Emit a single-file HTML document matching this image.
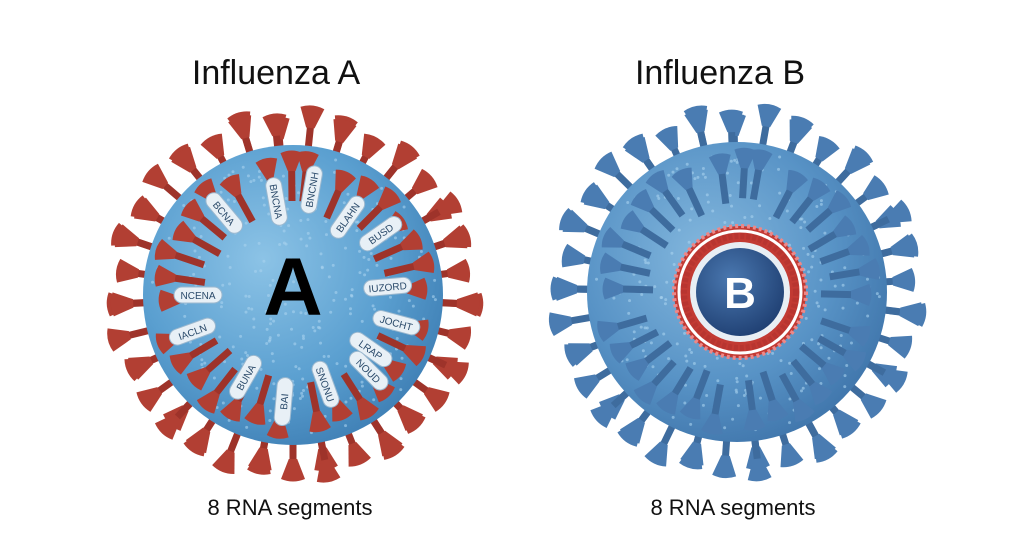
<!DOCTYPE html>
<html><head><meta charset="utf-8"><style>
html,body{margin:0;padding:0;background:#fff;width:1024px;height:559px;overflow:hidden}
svg{display:block}
text{font-family:"Liberation Sans","DejaVu Sans",sans-serif}
</style></head><body>
<svg id="s" width="1024" height="559" viewBox="0 0 1024 559" xmlns="http://www.w3.org/2000/svg">
<defs>
<radialGradient id="ga" cx="0.4" cy="0.38" r="0.7">
<stop offset="0" stop-color="#8cc3e6"/><stop offset="0.6" stop-color="#5a9fd0"/><stop offset="1" stop-color="#3c7cb2"/>
</radialGradient>
<radialGradient id="gb" cx="0.4" cy="0.38" r="0.7">
<stop offset="0" stop-color="#84b8de"/><stop offset="0.6" stop-color="#5893c6"/><stop offset="1" stop-color="#3d72a8"/>
</radialGradient>
<radialGradient id="gbadge" cx="0.4" cy="0.35" r="0.7">
<stop offset="0" stop-color="#4a78b0"/><stop offset="1" stop-color="#1f3f72"/>
</radialGradient>
</defs>
<text x="276" y="84" font-size="34" text-anchor="middle" fill="#111">Influenza A</text>
<text x="720" y="84" font-size="34" text-anchor="middle" fill="#111">Influenza B</text>
<g id="A"></g>
<g id="B"></g>
<text x="290" y="515" font-size="22" text-anchor="middle" fill="#111">8 RNA segments</text>
<text x="733" y="515" font-size="22" text-anchor="middle" fill="#111">8 RNA segments</text>
</svg>
<script>
var NS="http://www.w3.org/2000/svg";
function el(p,t,a){var e=document.createElementNS(NS,t);for(var k in a)e.setAttribute(k,a[k]);p.appendChild(e);return e;}
function head(L,w,h){return "M"+(-w)+","+(-L)+" Q0,"+(-L-5)+" "+w+","+(-L)+" L"+(w*0.35)+","+(-L+h)+" L"+(-w*0.35)+","+(-L+h)+" Z";}
function virus(id,cx,cy,r,grad,sc,hc,n,rot){
 var g=document.getElementById(id);
 for(var i=0;i<n;i++){
  var a=i*360/n+rot+((i*37)%11-5);
  var len=r+26+((i*7)%4)*4;
  var sg=el(g,"g",{transform:"translate("+cx+","+cy+") rotate("+a+")"});
  el(sg,"rect",{x:-3.5,y:-len+10,width:7,height:len-r+14,fill:sc});
  el(sg,"path",{d:head(len,12,20),fill:hc});
 }
 el(g,"circle",{cx:cx,cy:cy,r:r,fill:"url(#"+grad+")"});
 var seed=7;function rnd(){seed=(seed*9301+49297)%233280;return seed/233280;}
 for(var j=0;j<300;j++){var rr=Math.sqrt(rnd())*(r-6),th=rnd()*6.283;
  el(g,"circle",{cx:cx+rr*Math.cos(th),cy:cy+rr*Math.sin(th),r:1.5,fill:"#a9d2ee",opacity:0.6});}
 var m=Math.round(n*0.6);
 for(var i=0;i<m;i++){
  var a=i*360/m+rot+9+((i*13)%7-3);
  var sg=el(g,"g",{transform:"translate("+cx+","+cy+") rotate("+a+")"});
  var L=r-8-((i*5)%3)*5;
  el(sg,"rect",{x:-3.5,y:-L+12,width:7,height:36,fill:sc});
  el(sg,"path",{d:head(L,11,18),fill:hc});
 }
}
virus("A",293,295,150,"ga","#9e332a","#b23f33",52,0);
virus("B",737,292,150,"gb","#3e6c9e","#4a7cb2",52,4);
var A=document.getElementById("A");
var labs=["BNCNA","BCNA","BLAHN","BUSD","IUZORD","JOCHT","LRAP","NOUD","SNONU","BAI","BUNA","IACLN","NCENA","BNCNH"];
var angs=[-100,-130,-55,-35,-5,15,35,45,70,95,120,160,180,-80];
for(var k=0;k<labs.length;k++){
 var a=angs[k]*Math.PI/180,rr=95+(k%2)*12;
 var x=293+rr*Math.cos(a),y=295+rr*Math.sin(a);
 var deg=angs[k];if(deg>90||deg<-90)deg+=180;
 var gg=el(A,"g",{transform:"translate("+x+","+y+") rotate("+deg+")"});
 el(gg,"rect",{x:-24,y:-8,width:48,height:16,rx:8,fill:"#e8f0f6",stroke:"#9bb8cf","stroke-width":1});
 var t=el(gg,"text",{x:0,y:4,"font-size":10,"text-anchor":"middle",fill:"#2a4a6a"});t.textContent=labs[k];
}
var ta=el(A,"text",{x:293,y:315,"font-size":82,"font-weight":"bold","text-anchor":"middle",fill:"#000"});ta.textContent="A";
var B=document.getElementById("B");
el(B,"circle",{cx:740,cy:292,r:66,fill:"#c23a33"});
el(B,"circle",{cx:740,cy:292,r:66,fill:"none",stroke:"#e88","stroke-width":4,"stroke-dasharray":"3 3"});
el(B,"circle",{cx:740,cy:292,r:61,fill:"none",stroke:"#fff","stroke-width":3});
el(B,"circle",{cx:740,cy:292,r:56,fill:"none",stroke:"#b83530","stroke-width":6,"stroke-dasharray":"4 2"});
el(B,"circle",{cx:740,cy:292,r:50,fill:"#e8eef4"});
el(B,"circle",{cx:740,cy:292,r:44,fill:"url(#gbadge)"});
var tb=el(B,"text",{x:740,y:308,"font-size":44,"font-weight":"bold","text-anchor":"middle",fill:"#fff"});tb.textContent="B";
</script>
</body></html>
